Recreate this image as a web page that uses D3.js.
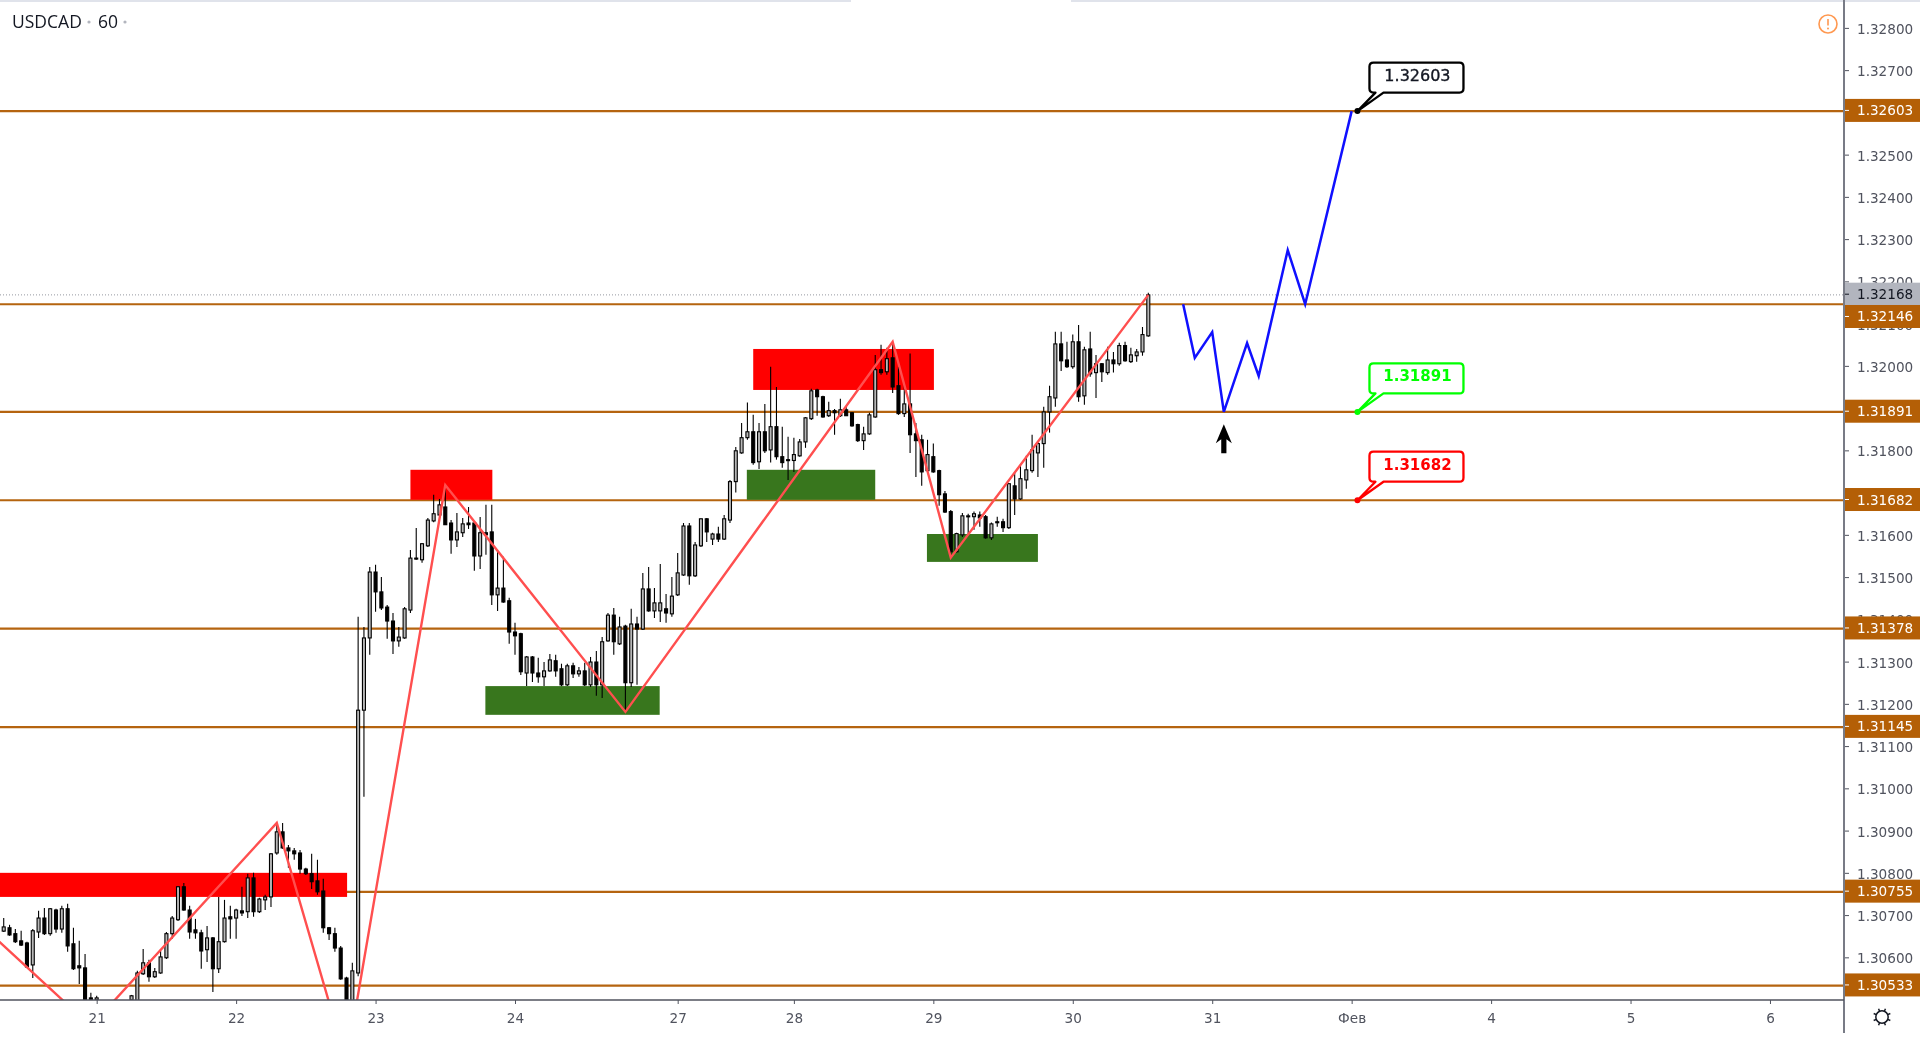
<!DOCTYPE html>
<html><head><meta charset="utf-8">
<script src="https://d3js.org/d3.v7.min.js"></script>
<style>html,body{margin:0;padding:0;background:#fff;overflow:hidden}svg{display:block}</style>
</head><body><svg id="c" width="1920" height="1040"></svg>
<script>
// prices in points (price x 100000), first bar index = -16
const firstBar = -16;
const opens = [130662,130670,130656,130639,130634,130582,130660,130693,130656,130712,
130667,130715,130632,130580,130575,130504,130499,130470,130462,130471,
130466,130476,130499,130497,130561,130587,130554,130563,130599,130656,
130689,130767,130712,130665,130658,130618,130646,130573,130637,130696,
130693,130710,130708,130788,130708,130736,130743,130847,130897,130859,
130852,130847,130809,130798,130781,130757,130670,130656,130622,130551,
130487,130563,131185,131356,131512,131465,131429,131396,131349,131356,
131422,131545,131541,131574,131633,131647,131666,131628,131588,131605,
131628,131628,131550,131605,131607,131458,131474,131444,131370,131366,
131273,131311,131273,131264,131278,131302,131283,131245,131290,131271,
131278,131245,131299,131245,131349,131410,131342,131384,131250,131389,
131377,131472,131420,131420,131425,131413,131458,131505,131621,131503,
131574,131638,131590,131602,131590,131635,131726,131794,131830,131844,
131773,131844,131801,131856,131785,131778,131776,131787,131820,131875,
131943,131927,131882,131894,131882,131896,131889,131861,131823,131839,
131879,131991,131986,132019,131953,131887,131910,131839,131825,131752,
131785,131752,131697,131655,131560,131600,131643,131643,131647,131643,
131593,131631,131631,131617,131716,131685,131730,131752,131794,131816,
131891,131924,132052,132014,131998,132057,131929,132040,131984,132005,
131984,132014,132005,132048,132010,132024,132033,132071];
const highs = [130693,130677,130667,130663,130637,130667,130710,130717,130717,130715,
130722,130727,130670,130639,130608,130516,130509,130484,130478,130486,
130483,130488,130511,130568,130620,130594,130575,130615,130660,130698,
130769,130776,130722,130691,130665,130674,130648,130743,130736,130722,
130715,130767,130798,130800,130741,130748,130847,130918,130918,130866,
130859,130854,130812,130845,130831,130786,130672,130670,130627,130554,
130587,131406,131382,131524,131529,131500,131434,131415,131382,131429,
131564,131616,131581,131640,131695,131685,131718,131635,131652,131640,
131666,131630,131642,131671,131671,131560,131548,131451,131392,131368,
131313,131313,131309,131299,131318,131316,131295,131295,131297,131287,
131297,131311,131325,131358,131415,131427,131406,131387,131425,131406,
131510,131524,131474,131531,131460,131500,131557,131628,131628,131583,
131639,131640,131605,131619,131647,131730,131808,131865,131913,131884,
131865,131910,131998,131950,131856,131832,131830,131827,131879,131946,
131946,131929,131915,131898,131922,131905,131891,131863,131856,131889,
132026,132050,132043,132057,131998,131955,132029,131865,131837,131825,
131816,131754,131704,131659,131605,131652,131650,131655,131655,131647,
131629,131643,131638,131723,131747,131766,131787,131837,131820,131903,
131953,132081,132081,132057,132074,132097,132045,132081,132026,132007,
132045,132033,132055,132057,132043,132040,132092,132173];
const lows = [130660,130651,130634,130627,130575,130551,130646,130653,130651,130658,
130658,130613,130570,130537,130480,130480,130487,130455,130450,130458,
130452,130465,130492,130492,130558,130542,130551,130561,130596,130644,
130686,130710,130644,130644,130573,130589,130518,130563,130635,130644,
130644,130698,130693,130696,130705,130712,130719,130843,130857,130812,
130831,130798,130795,130762,130748,130658,130641,130613,130547,130480,
130480,130555,130980,131316,131418,131422,131354,131318,131335,131354,
131415,131541,131534,131571,131630,131645,131624,131555,131571,131595,
131614,131515,131519,131553,131434,131420,131439,131342,131316,131268,
131242,131252,131250,131242,131276,131264,131242,131242,131261,131264,
131242,131240,131219,131214,131347,131316,131339,131181,131240,131245,
131375,131418,131403,131394,131392,131406,131455,131503,131482,131500,
131571,131583,131576,131583,131588,131628,131700,131792,131825,131766,
131756,131794,131771,131778,131759,131730,131749,131785,131806,131872,
131882,131877,131879,131837,131879,131882,131856,131820,131801,131837,
131877,131979,131979,131936,131884,131879,131794,131737,131716,131747,
131747,131669,131652,131546,131558,131595,131600,131612,131619,131591,
131588,131619,131607,131614,131647,131683,131709,131747,131737,131759,
131842,131903,131988,131995,131993,131915,131908,131974,131924,131962,
131979,131984,132000,132010,132007,132010,132024,132069];
const closes = [130672,130653,130637,130629,130577,130663,130693,130656,130715,130667,
130715,130627,130573,130575,130487,130487,130504,130462,130471,130466,
130476,130482,130509,130563,130587,130554,130566,130601,130656,130693,
130767,130712,130660,130658,130615,130646,130573,130637,130693,130691,
130712,130705,130788,130708,130738,130743,130845,130897,130859,130852,
130845,130809,130798,130779,130755,130670,130656,130622,130549,130487,
130568,131185,131356,131512,131465,131427,131396,131349,131358,131425,
131545,131543,131579,131635,131650,131671,131624,131588,131607,131626,
131624,131550,131605,131600,131458,131474,131441,131370,131361,131276,
131311,131273,131264,131278,131304,131278,131245,131290,131271,131278,
131245,131299,131245,131347,131410,131347,131382,131250,131389,131377,
131472,131420,131439,131439,131415,131455,131510,131621,131503,131576,
131638,131607,131602,131590,131638,131726,131799,131830,131844,131771,
131844,131799,131856,131785,131771,131776,131790,131820,131877,131941,
131927,131879,131894,131889,131896,131882,131858,131823,131839,131884,
131991,131984,132017,131950,131887,131910,131837,131823,131749,131790,
131749,131695,131654,131560,131603,131645,131645,131650,131640,131593,
131626,131629,131617,131721,131685,131733,131754,131801,131816,131891,
131927,132052,132012,131998,132057,131927,132038,131981,132005,131986,
132014,132005,132048,132012,132026,132033,132074,132168];

const priceTicks = [1.306,1.307,1.308,1.309,1.31,1.311,1.312,1.313,1.314,1.315,1.316,1.317,1.318,1.319,1.32,1.321,1.322,1.323,1.324,1.325,1.326,1.327,1.328];
const levels = [1.32603,1.32146,1.31891,1.31682,1.31378,1.31145,1.30755,1.30533];
const lastPrice = 1.32168;
const dateBars = [0,24,48,72,100,120,144,168,192,216,240,264,288];
const dateLabels = ["21","22","23","24","27","28","29","30","31","Фев","4","5","6"];

const zigBars = [-24,-1,31,43,60,91,137,147,181];
const zigPrices = [1.30729,1.30437,1.30918,1.30352,1.31718,1.31181,1.32057,1.31546,1.32168];
const planBars = [187,189,192,194,198,200,205,208,216];
const planPrices = [1.32146,1.32019,1.32080,1.31891,1.32054,1.31976,1.32274,1.32146,1.32603];

const zoneBar0 = [-20,54,66.9,113,111.9,142.9];
const zoneBar1 = [43.1,68.1,96.9,144.1,134,162];
const zoneTop = [1.30800,1.31754,1.31242,1.32040,1.31754,1.31602];
const zoneBottom = [1.30743,1.31683,1.31174,1.31943,1.31683,1.31536];
const zoneColor = ["#ff0000","#ff0000","#38761d","#ff0000","#38761d","#38761d"];

const calloutPrices = [1.32603,1.31891,1.31682];
const calloutColor = ["#000000","#00ff00","#ff0000"];
const calloutBar = 217;
const arrowBar = 194, arrowTipPrice = 1.31862;

const W=1844, H=1000;
const x = d3.scaleLinear().domain([-16.64,300.74]).range([0,W]);
const y = d3.scaleLinear().domain([1.32866,1.30499]).range([0,H]);
const px = v => y(v/100000);

const svg = d3.select("#c").style("filter","blur(0.6px)");
const FONT = "'DejaVu Sans',sans-serif";
svg.append("rect").attr("width",1920).attr("height",1040).attr("fill","#fff");
svg.append("rect").attr("width",851).attr("height",2).attr("fill","#e0e3eb");
svg.append("rect").attr("x",1071).attr("width",849).attr("height",2).attr("fill","#e0e3eb");
svg.append("defs").append("clipPath").attr("id","pane").append("rect").attr("width",W).attr("height",H);
const pane = svg.append("g").attr("clip-path","url(#pane)");

// last price dotted line
pane.append("line").attr("x1",0).attr("x2",W).attr("y1",y(lastPrice)).attr("y2",y(lastPrice))
  .attr("stroke","#9598a1").attr("stroke-width",1).attr("stroke-dasharray","1 2");
// levels
pane.selectAll("line.lv").data(levels).join("line").attr("class","lv")
  .attr("x1",0).attr("x2",W).attr("y1",d=>y(d)).attr("y2",d=>y(d))
  .attr("stroke","#b5640f").attr("stroke-width",2.1);
// zones
pane.selectAll("rect.z").data(zoneTop).join("rect").attr("class","z")
  .attr("x",(d,i)=>x(zoneBar0[i])).attr("width",(d,i)=>x(zoneBar1[i])-x(zoneBar0[i]))
  .attr("y",d=>y(d)).attr("height",(d,i)=>y(zoneBottom[i])-y(d))
  .attr("fill",(d,i)=>zoneColor[i]);
// candles
const idx = d3.range(opens.length);
const cg = pane.selectAll("g.k").data(idx).join("g").attr("class","k");
cg.append("line").attr("x1",i=>x(i+firstBar)).attr("x2",i=>x(i+firstBar))
  .attr("y1",i=>px(highs[i])).attr("y2",i=>px(lows[i])).attr("stroke","#000").attr("stroke-width",1.1);
cg.append("rect").attr("x",i=>x(i+firstBar)-1.5).attr("width",3)
  .attr("y",i=>px(Math.max(opens[i],closes[i])))
  .attr("height",i=>Math.max(1,Math.abs(px(opens[i])-px(closes[i]))))
  .attr("fill",i=>closes[i]>=opens[i]?"#b8b8b8":"#000").attr("stroke","#000").attr("stroke-width",1.1);
// lines
const zig = d3.line().x((d,i)=>x(d)).y((d,i)=>y(zigPrices[i]));
pane.append("path").attr("d",zig(zigBars)).attr("fill","none").attr("stroke","#ff4f4f").attr("stroke-width",2.4);
const plan = d3.line().x(d=>x(d)).y((d,i)=>y(planPrices[i]));
pane.append("path").attr("d",plan(planBars)).attr("fill","none").attr("stroke","#1010ff").attr("stroke-width",2.5);
// arrow
pane.append("path").attr("transform",`translate(${x(arrowBar)},${y(arrowTipPrice)})`)
  .attr("d","M0,0L8,19L2.6,15V29H-2.6V15L-8,19Z").attr("fill","#000");
// callouts
calloutPrices.forEach((p,i)=>{
  const g = pane.append("g").attr("transform",`translate(${x(calloutBar)},${y(p)})`);
  g.append("path").attr("d","M16,-48.5H102Q106,-48.5 106,-44.5V-22.5Q106,-18.5 102,-18.5H26L0,0L18,-18.5H16Q12,-18.5 12,-22.5V-44.5Q12,-48.5 16,-48.5Z")
    .attr("fill","#fff").attr("stroke",calloutColor[i]).attr("stroke-width",2.3).attr("stroke-linejoin","round");
  g.append("circle").attr("r",3).attr("fill",calloutColor[i]);
  g.append("text").attr("x",60).attr("y",-35.5).attr("dominant-baseline","central").attr("text-anchor","middle")
    .attr("font-family",FONT).attr("font-size",i?15:16).attr("font-weight",i?"bold":"normal")
    .attr("stroke",i?"none":"#131722").attr("stroke-width",i?0:0.35)
    .attr("fill",i?calloutColor[i]:"#131722").text(d3.format(".5f")(p));
});

// price axis
const ya = d3.axisRight(y).tickValues(priceTicks).tickFormat(d3.format(".5f")).tickSize(5).tickPadding(8);
const yg = svg.append("g").attr("transform",`translate(${W},0)`).call(ya);
yg.select(".domain").remove();
yg.selectAll("line").attr("stroke","#50535e");
yg.selectAll("text").attr("font-family",FONT).attr("font-size",13.6).attr("dy",".4em").attr("fill","#50535e");
svg.append("line").attr("x1",W).attr("x2",W).attr("y1",0).attr("y2",1033).attr("stroke","#787b86").attr("stroke-width",2);
svg.append("line").attr("x1",0).attr("x2",W).attr("y1",H).attr("y2",H).attr("stroke","#50535e").attr("stroke-width",1.5);

// date axis
const xa = d3.axisBottom(x).tickValues(dateBars).tickFormat((d,i)=>dateLabels[i]).tickSize(4).tickPadding(9);
const xg = svg.append("g").attr("transform",`translate(0,${H})`).call(xa);
xg.select(".domain").remove();
xg.selectAll("line").attr("stroke","#50535e");
xg.selectAll("text").attr("font-family",FONT).attr("font-size",13.6).attr("fill","#50535e");

// price labels
function tag(p,fill,color,shift){
  const yy=y(p)+shift-0.7;
  svg.append("rect").attr("x",W+1).attr("y",yy-11.5).attr("width",75).attr("height",23).attr("fill",fill);
  svg.append("line").attr("x1",W+1).attr("x2",W+5).attr("y1",yy).attr("y2",yy).attr("stroke",color);
  svg.append("text").attr("x",W+13).attr("y",yy).attr("dominant-baseline","central")
    .attr("font-family",FONT).attr("font-size",13.6).attr("fill",color).text(d3.format(".5f")(p));
}
tag(lastPrice,"#b2b5be","#131722",0);
levels.forEach(p=>tag(p,"#b45f06","#fff",p===1.32146?13:0));

// title
svg.append("text").attr("x",12).attr("y",28).attr("font-family","'Open Sans',sans-serif").attr("font-size",17.5).attr("fill","#131722").text("USDCAD");
svg.append("text").attr("x",98).attr("y",28).attr("font-family","'Open Sans',sans-serif").attr("font-size",17.5).attr("fill","#131722").text("60");
[89,125].forEach(cx=>svg.append("circle").attr("cx",cx).attr("cy",22).attr("r",1.6).attr("fill","#b2b5be"));

// warning icon
const w = svg.append("g").attr("transform","translate(1828,24)");
w.append("circle").attr("r",9).attr("fill","none").attr("stroke","#ff9850").attr("stroke-width",1.6);
w.append("line").attr("y1",-5).attr("y2",1.5).attr("stroke","#ff9850").attr("stroke-width",1.6);
w.append("circle").attr("cy",4.4).attr("r",1).attr("fill","#ff9850");

// settings icon
const gear = svg.append("g").attr("transform","translate(1882,1017)");
gear.append("circle").attr("r",6.2).attr("fill","none").attr("stroke","#131722").attr("stroke-width",1.5);
gear.selectAll("line").data(d3.range(8)).join("line")
  .attr("x1",d=>6.2*Math.cos(d*Math.PI/4+Math.PI/8)).attr("y1",d=>6.2*Math.sin(d*Math.PI/4+Math.PI/8))
  .attr("x2",d=>9*Math.cos(d*Math.PI/4+Math.PI/8)).attr("y2",d=>9*Math.sin(d*Math.PI/4+Math.PI/8))
  .attr("stroke","#131722").attr("stroke-width",1.5);
</script></body></html>
